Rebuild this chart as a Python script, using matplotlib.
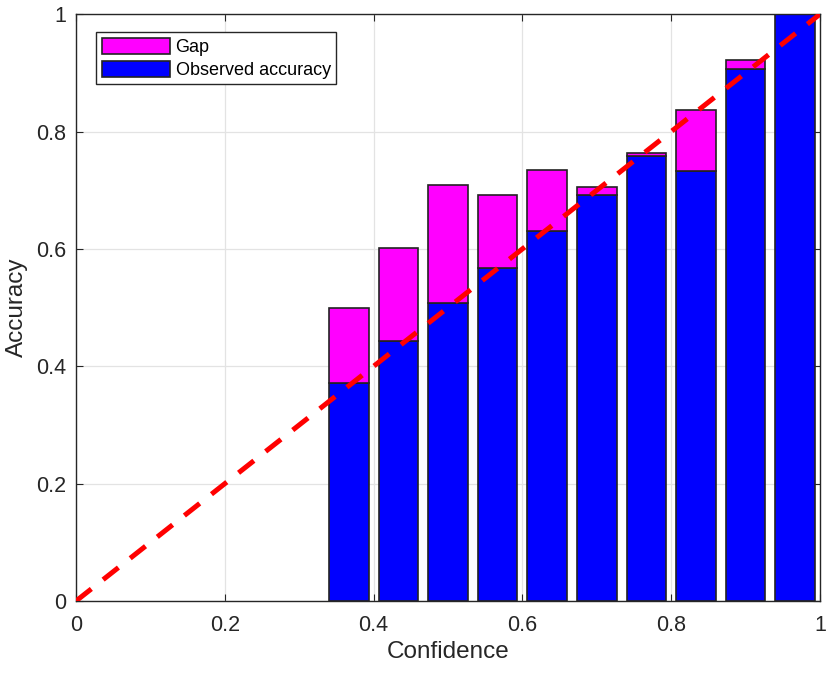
import numpy as np
import matplotlib.pyplot as plt

plt.rcParams['font.family'] = ['Liberation Sans', 'DejaVu Sans']

# 15 confidence bins, only bins 6..15 are populated
n_bins = 15
bin_index = [5, 6, 7, 8, 9, 10, 11, 12, 13, 14]
accuracy = [0.372, 0.443, 0.507, 0.568, 0.630, 0.692, 0.758, 0.732, 0.907, 1.0]
gap_top = [0.500, 0.601, 0.709, 0.691, 0.734, 0.705, 0.763, 0.836, 0.921, 1.0]


def reliability_plot():
    width = 1.0 / n_bins
    centers = (np.array(bin_index) + 0.5) * width
    acc = np.array(accuracy)
    gap = np.array(gap_top) - acc

    fig = plt.figure(figsize=(8.3, 6.73), dpi=100)
    ax = fig.add_axes([0.0916, 0.107, 0.8964, 0.872])

    ax.bar(centers, acc, width=0.8 * width, color='#0000ff', edgecolor='#222222',
           linewidth=1.2, label='Observed accuracy', zorder=2)
    ax.bar(centers, gap, bottom=acc, width=0.8 * width, color='#ff00ff',
           edgecolor='#222222', linewidth=1.2, label='Gap', zorder=2)
    ax.plot([0, 1], [0, 1], '--', color='#ff0000', linewidth=3.6,
            dashes=(3.9, 3.0), zorder=3)

    ax.set_xlim(0, 1)
    ax.set_ylim(0, 1)
    ticks = [0, 0.2, 0.4, 0.6, 0.8, 1]
    labels = ['0', '0.2', '0.4', '0.6', '0.8', '1']
    ax.set_xticks(ticks, labels)
    ax.set_yticks(ticks, labels)
    ax.tick_params(direction='in', top=True, right=True, labelsize=15.5,
                   length=5, color='#262626', labelcolor='#262626')
    ax.tick_params(axis='x', pad=10)
    ax.tick_params(axis='y', pad=7)
    ax.grid(True, color='#e3e3e3', linewidth=0.9, zorder=0)
    ax.set_axisbelow(True)
    for s in ax.spines.values():
        s.set_color('#262626')
        s.set_linewidth(1.0)

    ax.set_xlabel('Confidence', fontsize=17.5, color='#262626', labelpad=4)
    ax.set_ylabel('Accuracy', fontsize=17.5, color='#262626', labelpad=6)

    h, l = ax.get_legend_handles_labels()
    ax.legend(h[::-1], l[::-1], loc='upper left', bbox_to_anchor=(0.027, 0.969),
              borderaxespad=0, fontsize=13, handlelength=3.8, handleheight=1.0,
              handletextpad=0.3, labelspacing=0.25, borderpad=0.3, fancybox=False,
              edgecolor='#262626', framealpha=1)

    fig.savefig('out.png', dpi=100)


if __name__ == '__main__':
    reliability_plot()
